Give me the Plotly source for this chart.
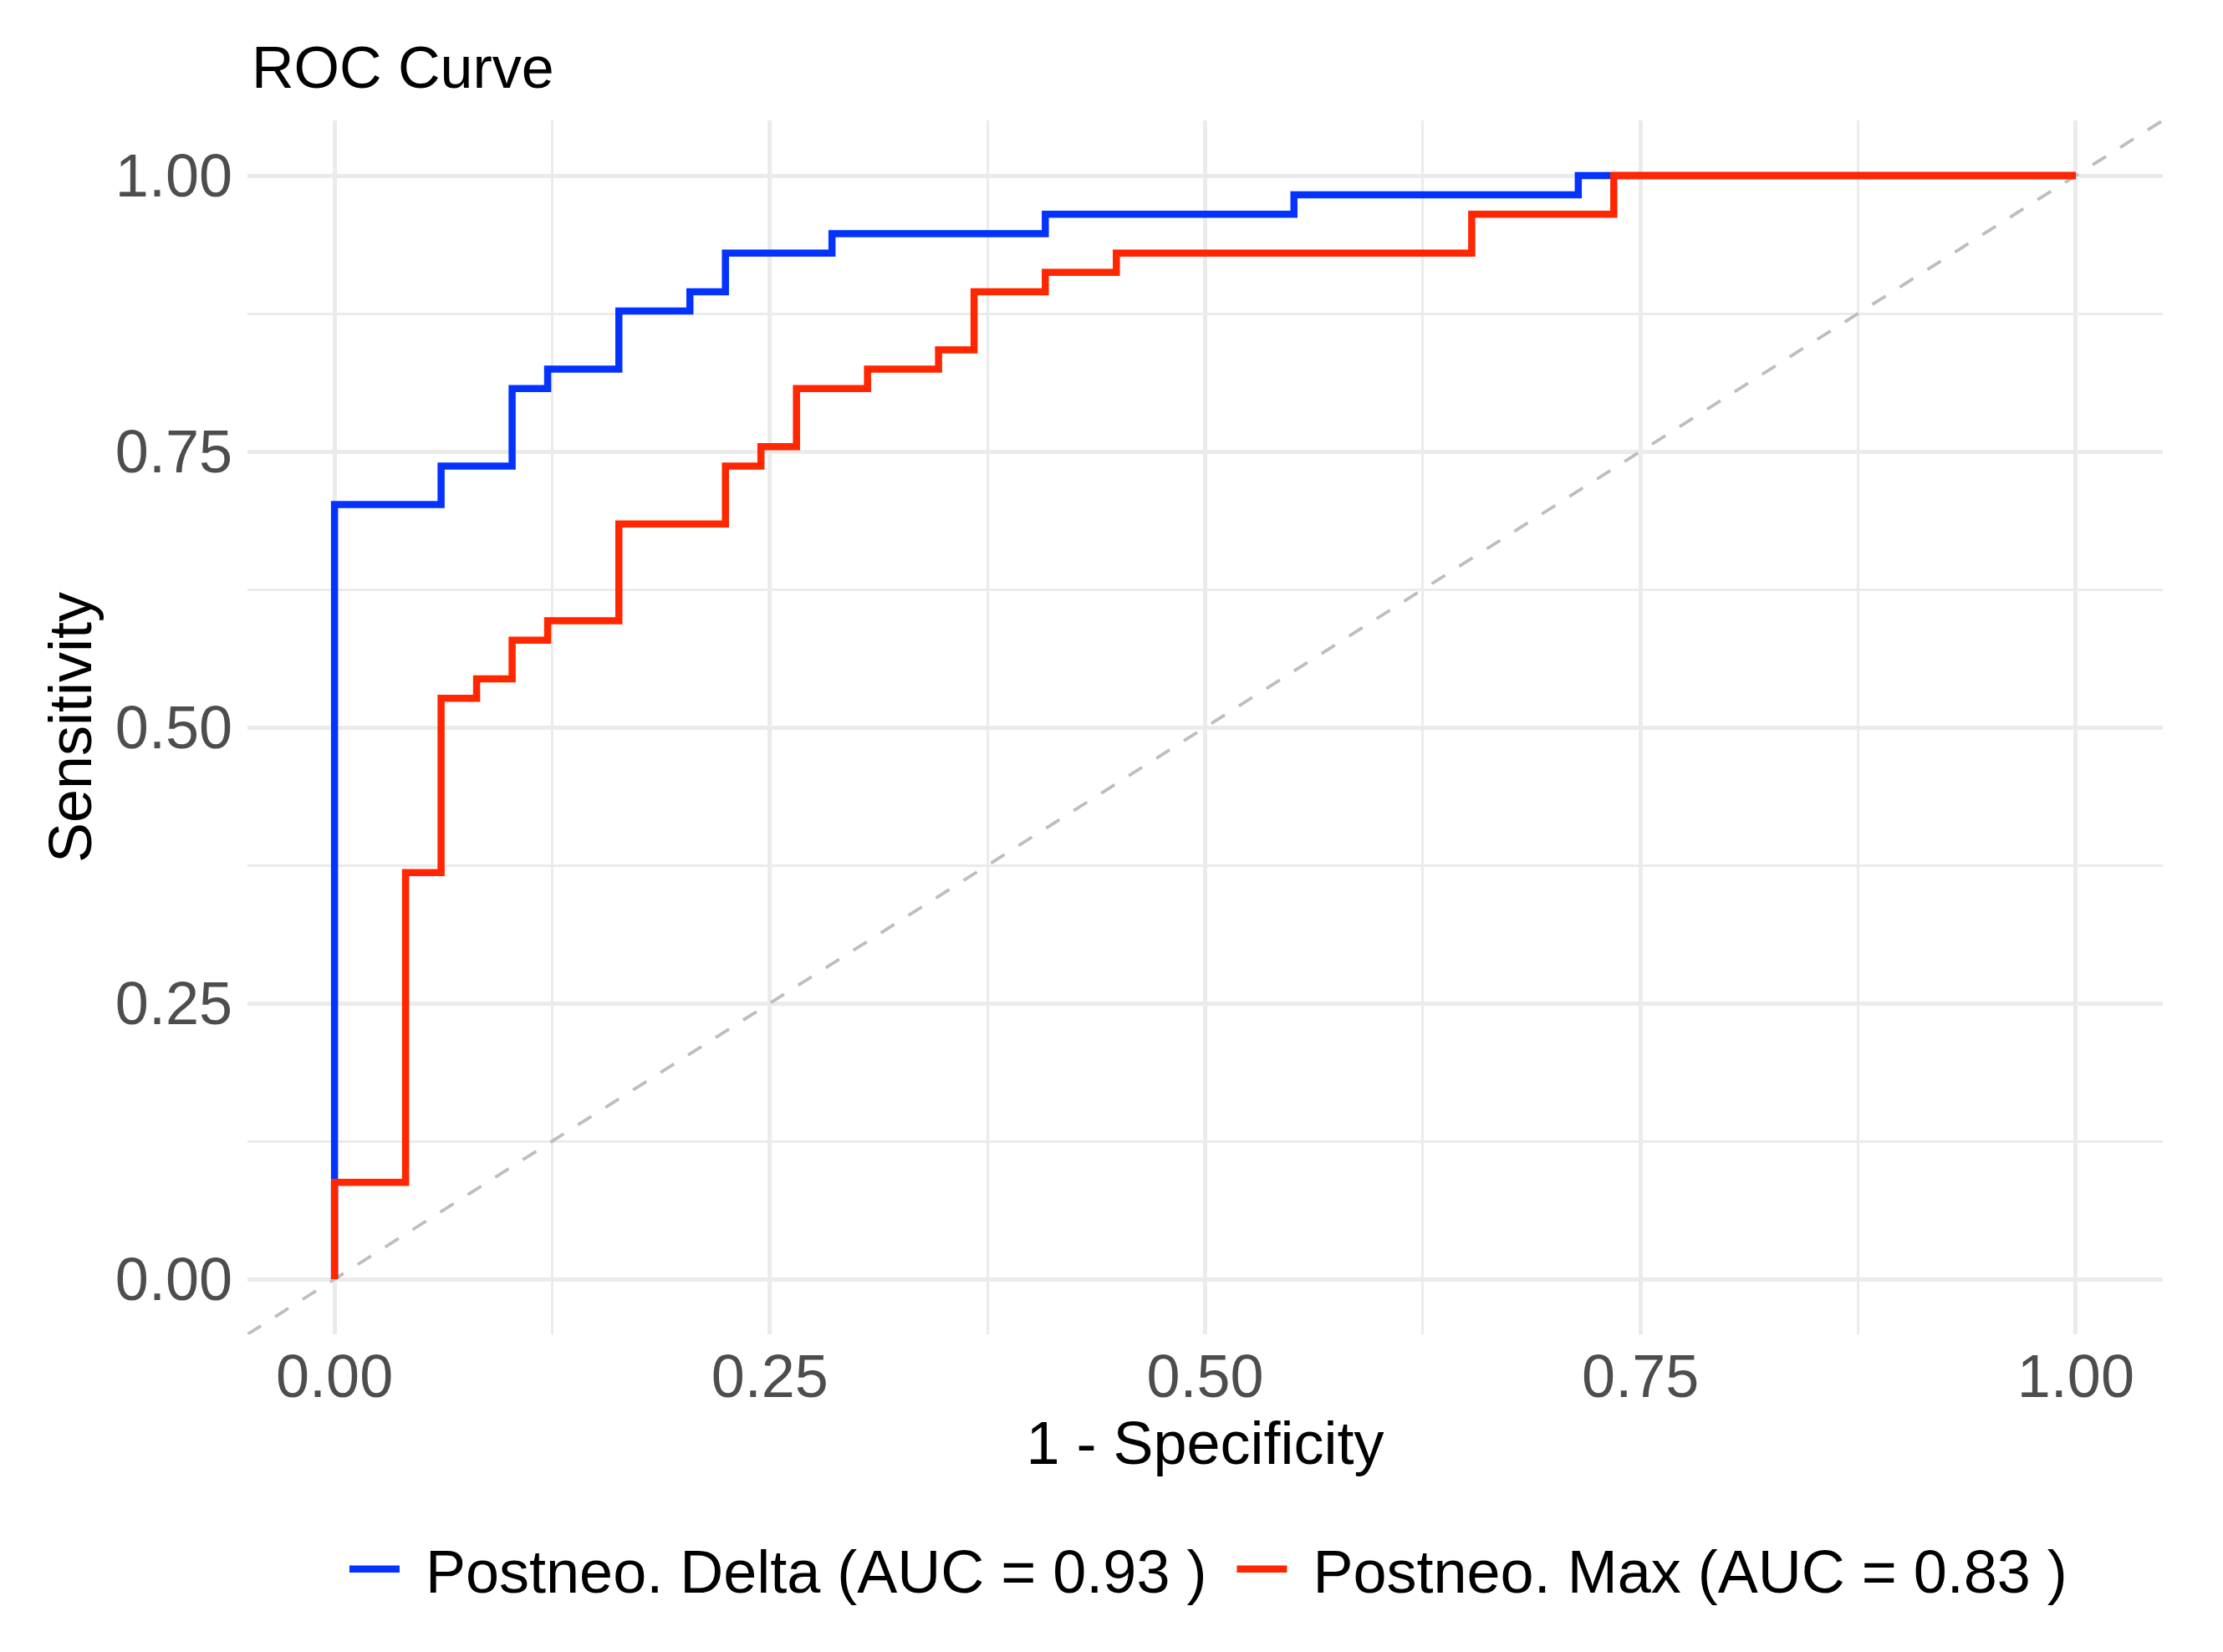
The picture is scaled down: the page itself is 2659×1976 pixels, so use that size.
import plotly.graph_objects as go

# step points of the two ROC curves (1 - specificity, sensitivity)
delta_fpr = [0.0, 0.0, 0.0612, 0.1020, 0.1224, 0.1633, 0.2041, 0.2245, 0.2857, 0.4082, 0.5510, 0.7143, 1.0]
delta_tpr = [0.0, 0.7018, 0.7368, 0.8070, 0.8246, 0.8772, 0.8947, 0.9298, 0.9474, 0.9649, 0.9825, 1.0, 1.0]

max_fpr = [0.0, 0.0, 0.0408, 0.0612, 0.0816, 0.1020, 0.1224, 0.1633, 0.2245, 0.2449, 0.2653,
           0.3061, 0.3469, 0.3673, 0.4082, 0.4490, 0.6531, 0.7347, 1.0]
max_tpr = [0.0, 0.0877, 0.3684, 0.5263, 0.5439, 0.5789, 0.5965, 0.6842, 0.7368, 0.7544, 0.8070,
           0.8246, 0.8421, 0.8947, 0.9123, 0.9298, 0.9649, 1.0, 1.0]

series_names = ["Postneo. Delta (AUC = 0.93 )", "Postneo. Max (AUC = 0.83 )"]
series_colors = ["#0433FF", "#FF2600"]

diag = [-0.05, 1.05]
ticks = [0, 0.25, 0.5, 0.75, 1.0]

FONT = "Liberation Sans, Arial, sans-serif"
GAP = "\u00a0\u200a"  # small padding around legend labels

# page body has an 8px margin, so the figure is a bit smaller than the window
W, H = 2643, 1960

fig = go.Figure()

# chance line
fig.add_trace(go.Scatter(x=diag, y=diag, mode="lines", showlegend=False, hoverinfo="skip",
                         line=dict(color="#BEBEBE", width=3.8, dash="19px,20px")))

for fx, ty, name, col in [(delta_fpr, delta_tpr, series_names[0], series_colors[0]),
                          (max_fpr, max_tpr, series_names[1], series_colors[1])]:
    fig.add_trace(go.Scatter(x=fx, y=ty, mode="lines", name=GAP + name + GAP,
                             line=dict(color=col, width=8.5, shape="hv")))

axis_common = dict(
    range=[-0.05, 1.05],
    tickvals=ticks,
    tickformat=".2f",
    showgrid=True,
    gridcolor="#EBEBEB",
    gridwidth=4.5,
    minor=dict(dtick=0.125, tick0=0, showgrid=True, gridcolor="#EBEBEB", gridwidth=3),
    zeroline=False,
    showline=False,
    ticks="",
    tickfont=dict(family=FONT, size=72, color="#4D4D4D"),
    title_font=dict(family=FONT, size=72, color="black"),
    automargin=False,
)

fig.update_xaxes(axis_common, title_text="1 - Specificity", title_standoff=15, ticklabelstandoff=2)
fig.update_yaxes(axis_common, title_text="Sensitivity", title_standoff=4, ticklabelstandoff=17)

fig.update_layout(
    width=W,
    height=H,
    margin=dict(l=288, r=64, t=136, b=372),
    paper_bgcolor="white",
    plot_bgcolor="white",
    font=dict(family=FONT, color="black"),
    title=dict(text="ROC Curve", x=293 / W, xanchor="left", xref="container",
               y=1 - 72 / H, yanchor="middle", yref="container",
               font=dict(family=FONT, size=70, color="black")),
    legend=dict(orientation="h", x=0.5074, xanchor="center", y=-0.1935, yanchor="middle",
                font=dict(family=FONT, size=72, color="black"), itemwidth=60,
                bgcolor="rgba(0,0,0,0)"),
)

fig.write_html("out.html")
